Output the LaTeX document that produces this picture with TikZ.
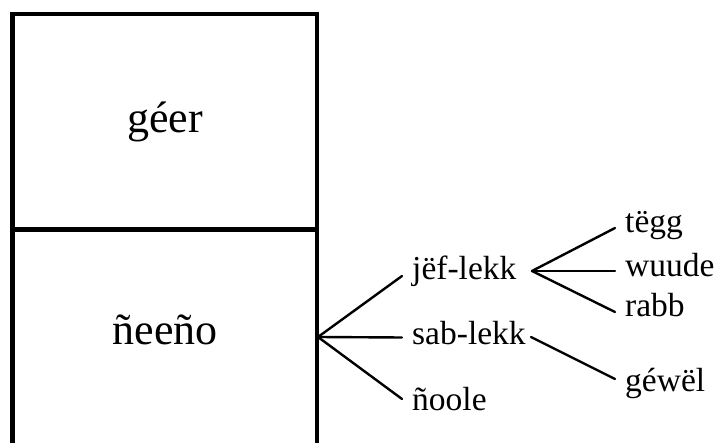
\documentclass[tikz,border=0pt]{standalone}
\usepackage{fontspec}
\setmainfont{Liberation Serif}
\begin{document}
\begin{tikzpicture}[x=1pt,y=-1pt,
  frame/.style={line width=4.5pt},
  branch/.style={line width=2.4pt, line cap=round},
  cell/.style={font=\fontsize{44}{50}\selectfont, inner sep=0pt, anchor=base},
  leaf/.style={font=\fontsize{33.5}{38}\selectfont, anchor=base west,
    inner xsep=10pt, inner ysep=0pt, text height=22pt, text depth=7pt}]
\useasboundingbox (0,0) rectangle (715,443);

% two stacked cells, open at the bottom
\draw[frame] (12.5,443) -- (12.5,14) -- (317,14) -- (317,443);
\draw[frame] (12.5,229.5) -- (317,229.5);
\node[cell] (geer) at (165,133) {géer};
\node[cell] (neeno) at (165,345) {ñeeño};

% first level of the tree
\coordinate (root) at (318,337);
\node[leaf] (jef) at (402,280) {jëf-lekk};
\node[leaf] (sab) at (402,345) {sab-lekk};
\node[leaf] (noole) at (402,411) {ñoole};
\draw[branch] (root) -- ([yshift=-3.5pt]jef.west);
\draw[branch] (root) -- (sab.west);
\draw[branch] (root) -- ([yshift=4.5pt]noole.west);

% second level
\coordinate (jefhub) at (532,271);
\coordinate (sabhub) at (531,337);
\node[leaf] (tegg) at (615,233) {tëgg};
\node[leaf] (wuude) at (615,277) {wuude};
\node[leaf] (rabb) at (615,317) {rabb};
\node[leaf] (gewel) at (615,392) {géwël};
\draw[branch] (jefhub) -- ([yshift=-2.5pt]tegg.west);
\draw[branch] (jefhub) -- ([yshift=-1.5pt]wuude.west);
\draw[branch] (jefhub) -- ([yshift=-2.5pt]rabb.west);
\draw[branch] (sabhub) -- ([yshift=5.5pt]gewel.west);
\end{tikzpicture}
\end{document}
